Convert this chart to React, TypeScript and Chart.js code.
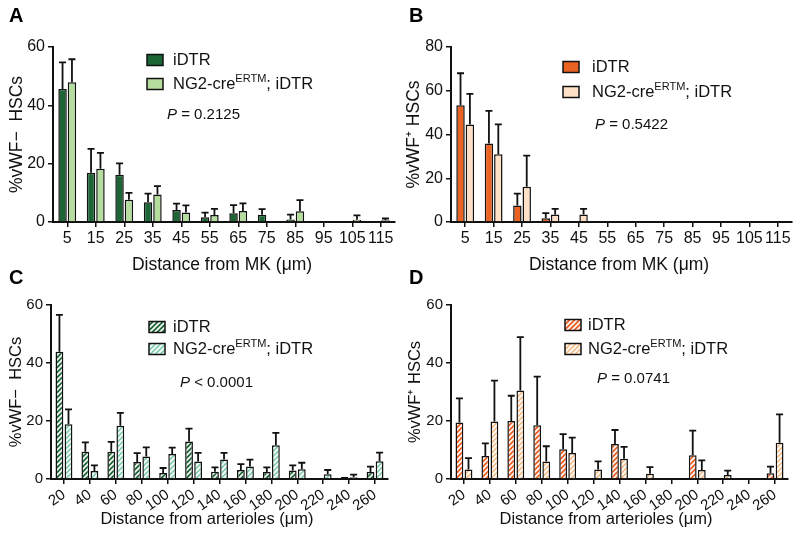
import React, { useEffect, useRef } from 'react';
import { Chart, registerables } from 'chart.js';
Chart.register(...registerables);

const FONT = "'Liberation Sans', Arial, Helvetica, sans-serif";

// ---------- data ----------
const MK_LABELS = ['5', '15', '25', '35', '45', '55', '65', '75', '85', '95', '105', '115'];
const ART_LABELS = ['20', '40', '60', '80', '100', '120', '140', '160', '180', '200', '220', '240', '260'];
const Y_TICK_STEP = 20;

// Panel A: %vWF- HSCs vs distance from MK
const A_IDTR = [45.6, 16.9, 16.2, 6.8, 4.1, 1.6, 3.0, 2.5, 0.9, 0, 0, 0];
const A_IDTR_ERR = [9.1, 8.2, 3.9, 2.9, 2.2, 1.6, 2.8, 1.9, 1.6, 0, 0, 0];
const A_NG2 = [47.9, 18.3, 7.6, 9.4, 3.3, 2.4, 3.8, 0, 3.7, 0, 0.8, 0.6];
const A_NG2_ERR = [7.9, 5.4, 2.4, 2.9, 2.4, 2.1, 2.6, 0, 3.8, 0, 1.5, 0.6];

// Panel B: %vWF+ HSCs vs distance from MK
const B_IDTR = [53.4, 35.9, 7.5, 1.7, 0, 0, 0, 0, 0, 0, 0, 0];
const B_IDTR_ERR = [14.6, 14.9, 5.5, 2.4, 0, 0, 0, 0, 0, 0, 0, 0];
const B_NG2 = [44.6, 31.0, 16.1, 3.4, 3.4, 0, 0, 0, 0, 0, 0, 0];
const B_NG2_ERR = [14.0, 13.6, 14.2, 2.6, 2.6, 0, 0, 0, 0, 0, 0, 0];

// Panel C: %vWF- HSCs vs distance from arterioles
const C_IDTR = [43.9, 9.4, 9.4, 5.9, 2.1, 12.9, 2.5, 3.1, 2.4, 2.9, 0, 0.2, 2.4];
const C_IDTR_ERR = [12.7, 3.2, 3.4, 3.0, 1.7, 4.5, 1.5, 2.0, 1.6, 1.8, 0, 0.2, 1.9];
const C_NG2 = [18.9, 2.8, 18.4, 7.8, 8.6, 6.0, 6.7, 4.3, 11.6, 3.4, 1.6, 0.6, 6.1];
const C_NG2_ERR = [5.1, 1.9, 4.4, 3.1, 2.2, 3.0, 2.3, 2.4, 4.3, 2.2, 1.5, 0.9, 3.0];

// Panel D: %vWF+ HSCs vs distance from arterioles
const D_IDTR = [19.5, 7.9, 20.0, 18.5, 10.3, 0, 12.1, 0, 0, 8.2, 0, 0, 2.0];
const D_IDTR_ERR = [8.3, 4.4, 8.7, 16.8, 5.2, 0, 4.8, 0, 0, 8.5, 0, 0, 2.3];
const D_NG2 = [3.3, 19.8, 30.5, 6.0, 9.0, 3.3, 7.0, 1.8, 0, 3.1, 1.4, 0, 12.5];
const D_NG2_ERR = [3.9, 14.1, 18.4, 5.3, 5.3, 2.8, 4.1, 2.3, 0, 3.3, 1.5, 0, 9.8];

const SERIES_NAMES = ['iDTR', 'NG2-cre'];

// ---------- panel layout ----------
type PanelCfg = {
  letter: string;
  x: number; y: number; w: number; h: number;
  area: { left: number; right: number; top: number; bottom: number };
  labels: string[];
  series: number[][];
  errors: number[][];
  colors: string[];
  hatched: boolean;
  yMax: number;
  yTitle: string;
  yTitlePad: number;
  titleSize: number;
  tickSize: number;
  xTitle: string;
  xTitleX: number;
  xTitleY: number;
  rotate: number;
  catPct: number;
  barPct: number;
  legend: { boxX: number; rows: number[]; textX: number };
  p: { x: number; y: number; text: string };
};

const PANELS: PanelCfg[] = [
  {
    letter: 'A', x: 0, y: 0, w: 400, h: 282,
    area: { left: 53, right: 395, top: 47, bottom: 222 },
    labels: MK_LABELS, series: [A_IDTR, A_NG2], errors: [A_IDTR_ERR, A_NG2_ERR],
    colors: ['#1c6636', '#b5dd9e'], hatched: false, yMax: 60,
    yTitle: '%vWF\u2212  HSCs', yTitlePad: 6.5, titleSize: 17.5, tickSize: 16,
    xTitle: 'Distance from MK (\u03bcm)', xTitleX: 222, xTitleY: 265,
    rotate: 0, catPct: 0.66, barPct: 0.9,
    legend: { boxX: 147, rows: [60, 84], textX: 173 },
    p: { x: 167, y: 115, text: ' = 0.2125' },
  },
  {
    letter: 'B', x: 400, y: 0, w: 400, h: 282,
    area: { left: 51, right: 392, top: 47, bottom: 222 },
    labels: MK_LABELS, series: [B_IDTR, B_NG2], errors: [B_IDTR_ERR, B_NG2_ERR],
    colors: ['#eb6323', '#fde0c5'], hatched: false, yMax: 80,
    yTitle: '%vWF\u207a HSCs', yTitlePad: 4, titleSize: 17.5, tickSize: 16,
    xTitle: 'Distance from MK (\u03bcm)', xTitleX: 219, xTitleY: 265,
    rotate: 0, catPct: 0.66, barPct: 0.9,
    legend: { boxX: 163, rows: [67, 92], textX: 192 },
    p: { x: 195, y: 125, text: ' = 0.5422' },
  },
  {
    letter: 'C', x: 0, y: 262, w: 400, h: 276,
    area: { left: 51, right: 388, top: 43, bottom: 217 },
    labels: ART_LABELS, series: [C_IDTR, C_NG2], errors: [C_IDTR_ERR, C_NG2_ERR],
    colors: ['#1c6636', '#86d0b0'], hatched: true, yMax: 60,
    yTitle: '%vWF\u2212  HSCs', yTitlePad: 7, titleSize: 16.5, tickSize: 15,
    xTitle: 'Distance from arterioles (\u03bcm)', xTitleX: 207, xTitleY: 257,
    rotate: 35, catPct: 0.7, barPct: 0.86,
    legend: { boxX: 149, rows: [65, 87], textX: 173 },
    p: { x: 180, y: 121, text: ' < 0.0001' },
  },
  {
    letter: 'D', x: 400, y: 262, w: 400, h: 276,
    area: { left: 51, right: 388, top: 43, bottom: 217 },
    labels: ART_LABELS, series: [D_IDTR, D_NG2], errors: [D_IDTR_ERR, D_NG2_ERR],
    colors: ['#ec5f22', '#f6c18d'], hatched: true, yMax: 60,
    yTitle: '%vWF\u207a HSCs', yTitlePad: 6, titleSize: 16.5, tickSize: 15,
    xTitle: 'Distance from arterioles (\u03bcm)', xTitleX: 206, xTitleY: 257,
    rotate: 35, catPct: 0.7, barPct: 0.86,
    legend: { boxX: 165, rows: [63, 87], textX: 188 },
    p: { x: 197, y: 117, text: ' = 0.0741' },
  },
];

function hatch(color: string): CanvasPattern | string {
  const s = 5;
  const c = document.createElement('canvas');
  c.width = s; c.height = s;
  const g = c.getContext('2d');
  if (!g) return color;
  g.fillStyle = color;
  g.fillRect(0, 0, s, s);
  g.strokeStyle = '#ffffff';
  g.lineWidth = 1.6;
  g.beginPath();
  g.moveTo(-1, s + 1); g.lineTo(s + 1, -1);
  g.moveTo(-1, 1); g.lineTo(1, -1);
  g.moveTo(s - 1, s + 1); g.lineTo(s + 1, s - 1);
  g.stroke();
  const p = g.createPattern(c, 'repeat');
  return p || color;
}

const errorBarPlugin = {
  id: 'errorBars',
  afterDatasetsDraw(chart: any, _args: any, opts: any) {
    const ctx = chart.ctx;
    const ys = chart.scales.y;
    chart.data.datasets.forEach((ds: any, i: number) => {
      const meta = chart.getDatasetMeta(i);
      const errs = opts.errors[i];
      meta.data.forEach((bar: any, j: number) => {
        const v = ds.data[j];
        const e = errs[j];
        if (!e) return;
        const x = bar.x;
        const y0 = ys.getPixelForValue(v);
        const y1 = ys.getPixelForValue(v + e);
        ctx.save();
        ctx.strokeStyle = '#111';
        ctx.lineWidth = 1.8;
        ctx.beginPath();
        ctx.moveTo(x, y0);
        ctx.lineTo(x, y1);
        ctx.moveTo(x - 3.5, y1);
        ctx.lineTo(x + 3.5, y1);
        ctx.stroke();
        ctx.restore();
      });
    });
  },
};

const annotPlugin = {
  id: 'annot',
  afterDraw(chart: any, _args: any, opts: any) {
    const ctx = chart.ctx;
    const cfg: PanelCfg = opts.cfg;
    const fills = opts.fills;
    ctx.save();
    // panel letter
    ctx.fillStyle = '#000';
    ctx.font = `bold 20px ${FONT}`;
    ctx.textBaseline = 'alphabetic';
    ctx.textAlign = 'left';
    ctx.fillText(cfg.letter, 9, 22);
    // x axis title
    ctx.fillStyle = '#111';
    ctx.font = `${cfg.titleSize}px ${FONT}`;
    ctx.textAlign = 'center';
    ctx.textBaseline = 'middle';
    ctx.fillText(cfg.xTitle, cfg.xTitleX, cfg.xTitleY);
    ctx.textAlign = 'left';
    // legend
    const lg = cfg.legend;
    lg.rows.forEach((ry, i) => {
      ctx.fillStyle = fills[i];
      ctx.fillRect(lg.boxX, ry - 5.5, 16, 11);
      ctx.strokeStyle = '#111';
      ctx.lineWidth = 1.5;
      ctx.strokeRect(lg.boxX, ry - 5.5, 16, 11);
      ctx.fillStyle = '#111';
      ctx.textBaseline = 'middle';
      ctx.font = `16.5px ${FONT}`;
      let tx = lg.textX;
      if (i === 0) {
        ctx.fillText(SERIES_NAMES[0], tx, ry);
      } else {
        ctx.fillText(SERIES_NAMES[1], tx, ry);
        tx += ctx.measureText(SERIES_NAMES[1]).width;
        ctx.font = `11px ${FONT}`;
        ctx.fillText('ERTM', tx, ry - 5);
        tx += ctx.measureText('ERTM').width;
        ctx.font = `16.5px ${FONT}`;
        ctx.fillText('; iDTR', tx, ry);
      }
    });
    // P value
    ctx.fillStyle = '#111';
    ctx.textBaseline = 'middle';
    ctx.font = `italic 15px ${FONT}`;
    ctx.fillText('P', cfg.p.x, cfg.p.y);
    const pw = ctx.measureText('P').width;
    ctx.font = `15px ${FONT}`;
    ctx.fillText(cfg.p.text, cfg.p.x + pw, cfg.p.y);
    ctx.restore();
  },
};

function Panel({ cfg }: { cfg: PanelCfg }) {
  const ref = useRef<HTMLCanvasElement | null>(null);
  useEffect(() => {
    if (!ref.current) return;
    const fills = cfg.colors.map((c) => (cfg.hatched ? hatch(c) : c));
    const axisColor = '#111';
    const chart = new Chart(ref.current, {
      type: 'bar',
      data: {
        labels: cfg.labels,
        datasets: cfg.series.map((d, i) => ({
          label: SERIES_NAMES[i],
          data: d,
          backgroundColor: fills[i] as any,
          borderColor: '#111',
          borderWidth: 1.5,
          categoryPercentage: cfg.catPct,
          barPercentage: cfg.barPct,
        })),
      },
      options: {
        animation: false,
        responsive: false,
        maintainAspectRatio: false,
        layout: { padding: { top: cfg.area.top, right: cfg.w - cfg.area.right, left: 0, bottom: 0 } },
        plugins: {
          legend: { display: false },
          tooltip: { enabled: false },
          errorBars: { errors: cfg.errors },
          annot: { cfg, fills },
        } as any,
        scales: {
          x: {
            grid: { display: true, drawOnChartArea: false, offset: false, color: axisColor, lineWidth: 1.5, tickLength: 5, drawTicks: true },
            border: { display: true, color: axisColor, width: 2 },
            ticks: {
              color: '#111', font: { family: FONT, size: cfg.tickSize }, padding: 2, autoSkip: false,
              maxRotation: cfg.rotate, minRotation: cfg.rotate,
            },
            title: { display: false },
            afterFit: (s: any) => { s.height = cfg.h - cfg.area.bottom; },
          },
          y: {
            min: 0, max: cfg.yMax,
            grid: { display: true, drawOnChartArea: false, color: axisColor, lineWidth: 1.5, tickLength: 5, drawTicks: true },
            border: { display: true, color: axisColor, width: 2 },
            ticks: { stepSize: Y_TICK_STEP, color: '#111', font: { family: FONT, size: cfg.tickSize }, padding: 3 },
            title: {
              display: true, text: cfg.yTitle, color: '#111',
              font: { family: FONT, size: cfg.titleSize }, padding: { top: cfg.yTitlePad, bottom: 0 },
            },
            afterFit: (s: any) => { s.width = cfg.area.left; },
          },
        },
      },
      plugins: [errorBarPlugin, annotPlugin],
    });
    return () => chart.destroy();
  }, [cfg]);
  return (
    <canvas
      ref={ref}
      width={cfg.w}
      height={cfg.h}
      style={{ position: 'absolute', left: cfg.x, top: cfg.y, width: cfg.w, height: cfg.h, display: 'block' }}
    />
  );
}

export default function App() {
  return (
    <div style={{ position: 'fixed', left: 0, top: 0, width: 800, height: 538, background: '#fff', overflow: 'hidden' }}>
      {PANELS.map((p) => (
        <Panel key={p.letter} cfg={p} />
      ))}
    </div>
  );
}
